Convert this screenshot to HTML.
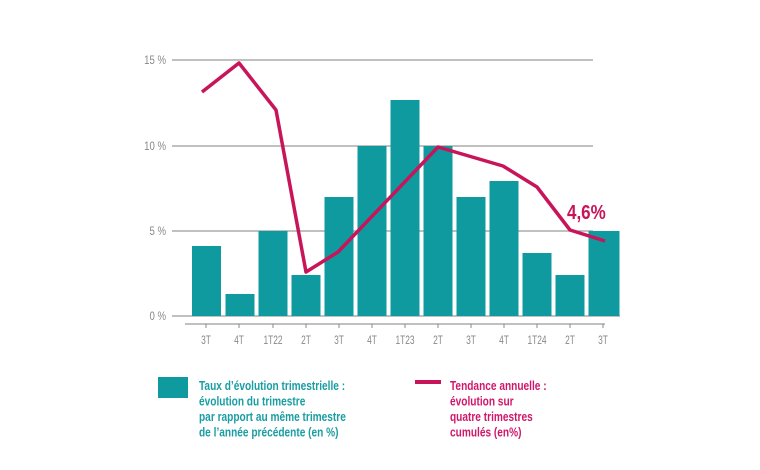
<!DOCTYPE html>
<html><head><meta charset="utf-8"><style>
html,body{margin:0;padding:0;background:#fff;}
svg{display:block;}
.t{font-family:"Liberation Sans",sans-serif;}
</style></head><body>
<svg width="760" height="470" viewBox="0 0 760 470" xmlns="http://www.w3.org/2000/svg">
<g stroke="#9a9a9a" stroke-width="1.2">
<line x1="172" y1="60" x2="593" y2="60"/>
<line x1="172" y1="146" x2="593" y2="146"/>
<line x1="172" y1="231" x2="593" y2="231"/>
<line x1="172" y1="316" x2="620" y2="316"/>
<line x1="185" y1="324" x2="605" y2="324"/>
</g>
<g class="t" font-size="12" fill="#888" text-anchor="end">
<text transform="translate(166,64) scale(0.8,1)">15 %</text>
<text transform="translate(166,150) scale(0.8,1)">10 %</text>
<text transform="translate(166,235) scale(0.8,1)">5 %</text>
<text transform="translate(166,320) scale(0.8,1)">0 %</text>
</g>
<g fill="#0f9aa0">
<rect x="192" y="246" width="29" height="70"/>
<rect x="225.5" y="294" width="29" height="22"/>
<rect x="258.5" y="231" width="29" height="85"/>
<rect x="291.5" y="275" width="29" height="41"/>
<rect x="324.5" y="197" width="29" height="119"/>
<rect x="357.5" y="146" width="29" height="170"/>
<rect x="390.5" y="100" width="29" height="216"/>
<rect x="423.5" y="146" width="29" height="170"/>
<rect x="456.5" y="197" width="29" height="119"/>
<rect x="489.5" y="181" width="29" height="135"/>
<rect x="522.5" y="253" width="29" height="63"/>
<rect x="555.5" y="275" width="29" height="41"/>
<rect x="588.5" y="231" width="31" height="85"/>
</g>
<g stroke="#888" stroke-width="1">
<line x1="206" y1="324" x2="206" y2="328"/><line x1="239" y1="324" x2="239" y2="328"/><line x1="273" y1="324" x2="273" y2="328"/><line x1="306" y1="324" x2="306" y2="328"/><line x1="339" y1="324" x2="339" y2="328"/><line x1="372" y1="324" x2="372" y2="328"/><line x1="405" y1="324" x2="405" y2="328"/><line x1="438" y1="324" x2="438" y2="328"/><line x1="471" y1="324" x2="471" y2="328"/><line x1="504" y1="324" x2="504" y2="328"/><line x1="537" y1="324" x2="537" y2="328"/><line x1="570" y1="324" x2="570" y2="328"/><line x1="603" y1="324" x2="603" y2="328"/>
</g>
<g class="t" font-size="12" fill="#888" text-anchor="middle">
<text transform="translate(206,344) scale(0.7,1)">3T</text>
<text transform="translate(239,344) scale(0.7,1)">4T</text>
<text transform="translate(273,344) scale(0.7,1)">1T22</text>
<text transform="translate(306,344) scale(0.7,1)">2T</text>
<text transform="translate(339,344) scale(0.7,1)">3T</text>
<text transform="translate(372,344) scale(0.7,1)">4T</text>
<text transform="translate(405,344) scale(0.7,1)">1T23</text>
<text transform="translate(438,344) scale(0.7,1)">2T</text>
<text transform="translate(471,344) scale(0.7,1)">3T</text>
<text transform="translate(504,344) scale(0.7,1)">4T</text>
<text transform="translate(537,344) scale(0.7,1)">1T24</text>
<text transform="translate(570,344) scale(0.7,1)">2T</text>
<text transform="translate(603,344) scale(0.7,1)">3T</text>
</g>
<polyline fill="none" stroke="#c8155a" stroke-width="3.5" stroke-linejoin="round" points="202,92 239,63 276,110 306,272 338,252 438,147 503,166 537,187 570,230 605,241"/>
<text class="t" transform="translate(567,219) scale(0.85,1)" font-size="20" font-weight="bold" fill="#c8155a">4,6%</text>
<rect x="158" y="377" width="30" height="21" fill="#0f9aa0"/>
<g class="t" font-size="13" font-weight="bold" fill="#1a9ea3">
<text transform="translate(199,390) scale(0.78,1)">Taux d’évolution trimestrielle :</text>
<text transform="translate(199,405.5) scale(0.78,1)">évolution du trimestre</text>
<text transform="translate(199,421) scale(0.78,1)">par rapport au même trimestre</text>
<text transform="translate(199,436.5) scale(0.78,1)">de l’année précédente (en %)</text>
</g>
<line x1="415" y1="382" x2="441" y2="382" stroke="#c8155a" stroke-width="4"/>
<g class="t" font-size="13" font-weight="bold" fill="#d0186a">
<text transform="translate(450,390) scale(0.78,1)">Tendance annuelle :</text>
<text transform="translate(450,405.5) scale(0.78,1)">évolution sur</text>
<text transform="translate(450,421) scale(0.78,1)">quatre trimestres</text>
<text transform="translate(450,436.5) scale(0.78,1)">cumulés (en%)</text>
</g>
</svg>
</body></html>
